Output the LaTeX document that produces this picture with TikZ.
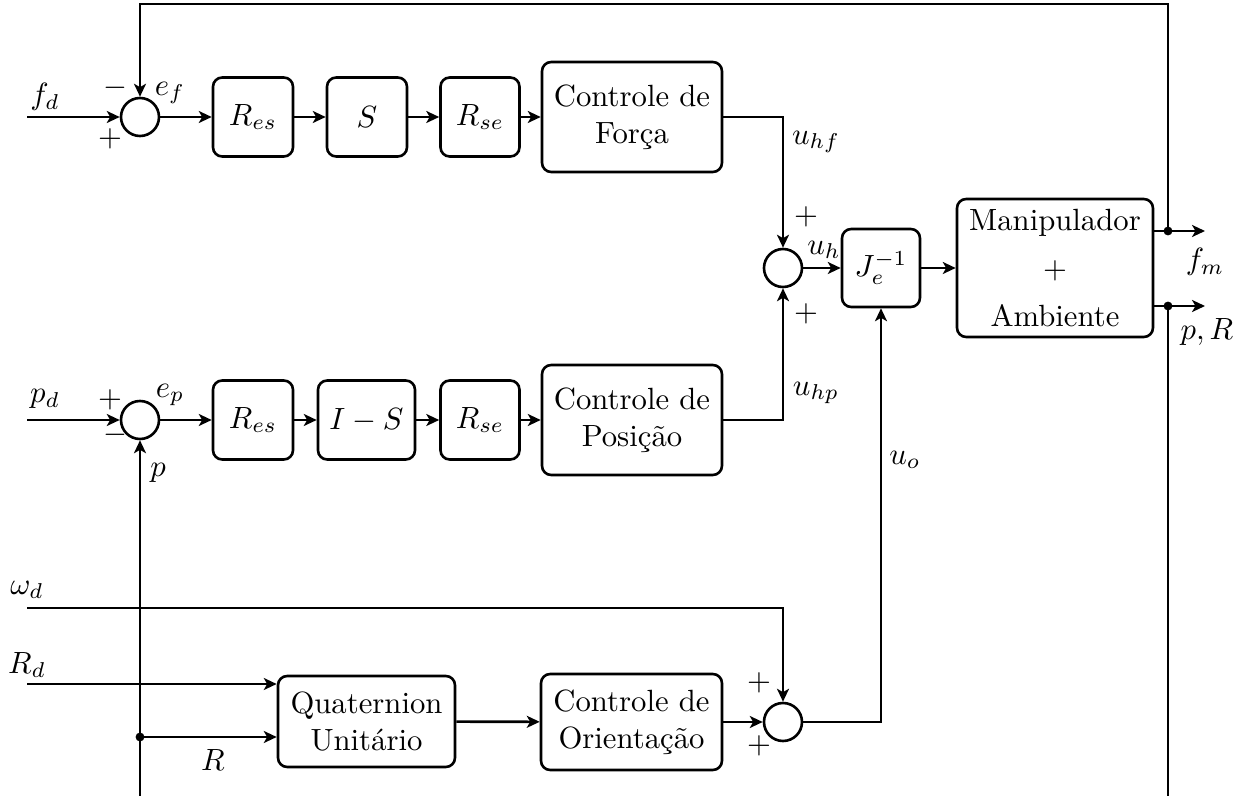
\documentclass[tikz,border=0pt]{standalone}
\usetikzlibrary{arrows.meta}
\newdimen\pxu \pxu=0.32565pt
\begin{document}
\begin{tikzpicture}[x=0.32565pt,y=-0.32565pt,
  blk/.style={draw, line width=0.85pt, rounded corners=3pt, align=center, inner sep=2pt},
  sumc/.style={draw, circle, line width=0.85pt, minimum size=38\pxu, inner sep=0pt},
  conn/.style={line width=0.85pt, -{Stealth[length=4.2pt,width=3.9pt,inset=1.1pt]}},
  wire/.style={line width=0.85pt},
  jdot/.style={circle, fill, inner sep=0pt, minimum size=2.9pt},
  lbl/.style={inner sep=0pt}]
\useasboundingbox (0,0) rectangle (1257,796);
% --- top row (force) ---
\node[sumc] (sf) at (140,117) {};
\node[blk, minimum width=80\pxu, minimum height=79\pxu] (res1) at (253,117) {$R_{es}$};
\node[blk, minimum width=80\pxu, minimum height=79\pxu] (S) at (367,117) {$S$};
\node[blk, minimum width=79\pxu, minimum height=79\pxu] (rse1) at (480,117) {$R_{se}$};
\node[blk, minimum width=180\pxu, minimum height=110\pxu] (forca) at (632,117) {Controle de\\Força};
% --- middle row (position) ---
\node[sumc] (sp) at (140,420) {};
\node[blk, minimum width=80\pxu, minimum height=79\pxu] (res2) at (253,420) {$R_{es}$};
\node[blk, minimum width=97\pxu, minimum height=79\pxu] (IS) at (366.5,420) {$I-S$};
\node[blk, minimum width=79\pxu, minimum height=79\pxu] (rse2) at (480,420) {$R_{se}$};
\node[blk, minimum width=180\pxu, minimum height=110\pxu] (posicao) at (632,420) {Controle de\\Posição};
% --- right part ---
\node[sumc] (sh) at (783,268) {};
\node[blk, minimum width=78\pxu, minimum height=78\pxu] (jinv) at (881,268) {$J_e^{-1}$};
\node[blk, minimum width=196\pxu, minimum height=138\pxu] (manip) at (1055,268) {Manipulador\\[3.6pt]$+$\\[3.6pt]Ambiente};
% --- bottom row (orientation) ---
\node[blk, minimum width=177\pxu, minimum height=91\pxu] (quat) at (366.5,721.5) {Quaternion\\Unitário};
\node[blk, minimum width=181\pxu, minimum height=96\pxu] (orient) at (631.5,722) {Controle de\\Orientação};
\node[sumc] (so) at (783,722) {};
% --- coordinates ---
\coordinate (fdin) at (27,117);
\coordinate (pdin) at (27,420);
\coordinate (wdin) at (27,608);
\coordinate (rdin) at (27,684);
\coordinate (rdot) at (140,737);
\coordinate (pbot) at (140,796);
\coordinate (fmdot) at (1168,231);
\coordinate (prdot) at (1168,306);
\coordinate (fmend) at (1205,231);
\coordinate (prend) at (1205,306);
\coordinate (rbot) at (1168,796);
\coordinate (topr) at (1168,4);
% --- connectors top ---
\draw[conn] (fdin) -- (sf);
\draw[conn] (sf) -- (res1);
\draw[conn] (res1) -- (S);
\draw[conn] (S) -- (rse1);
\draw[conn] (rse1) -- (forca);
\draw[conn] (forca.east) -| (sh.north);
% --- connectors middle ---
\draw[conn] (pdin) -- (sp);
\draw[conn] (sp) -- (res2);
\draw[conn] (res2) -- (IS);
\draw[conn] (IS) -- (rse2);
\draw[conn] (rse2) -- (posicao);
\draw[conn] (posicao.east) -| (sh.south);
% --- right ---
\draw[conn] (sh) -- (jinv);
\draw[conn] (jinv) -- (manip);
\draw[conn] (manip.east |- fmend) -- (fmend);
\draw[conn] (manip.east |- prend) -- (prend);
\draw[conn] (fmdot) -- (topr) -| (sf.north);
\draw[wire] (prdot) -- (rbot);
\node[jdot] at (fmdot) {};
\node[jdot] at (prdot) {};
% --- bottom ---
\draw[conn] (wdin) -| (so.north);
\draw[conn] (rdin) -- (quat.west |- rdin);
\draw[conn] (rdot) -- (quat.west |- rdot);
\draw[conn] (pbot) -- (sp.south);
\node[jdot] at (rdot) {};
\draw[conn] (quat) -- (orient);
\draw[conn] (orient) -- (so);
\draw[conn] (so.east) -| (jinv.south);
% --- labels ---
\node[lbl] at (45,97) {$f_d$};
\node[lbl] at (115,88) {$-$};
\node[lbl] at (110,139) {$+$};
\node[lbl] at (170,93) {$e_f$};
\node[lbl] at (45,399) {$p_d$};
\node[lbl] at (110,400) {$+$};
\node[lbl] at (115,435) {$-$};
\node[lbl] at (170,395) {$e_p$};
\node[lbl] at (158,473) {$p$};
\node[lbl] at (816,142) {$u_{hf}$};
\node[lbl] at (816,393) {$u_{hp}$};
\node[lbl] at (806,217) {$+$};
\node[lbl] at (806,314) {$+$};
\node[lbl] at (824,250) {$u_h$};
\node[lbl] at (905,460) {$u_o$};
\node[lbl] at (1205,262) {$f_m$};
\node[lbl] at (1207,332) {$p,R$};
\node[lbl] at (27,590) {$\omega_d$};
\node[lbl] at (27,665) {$R_d$};
\node[lbl] at (213,760) {$R$};
\node[lbl] at (759,683) {$+$};
\node[lbl] at (759,746) {$+$};
\end{tikzpicture}
\end{document}
